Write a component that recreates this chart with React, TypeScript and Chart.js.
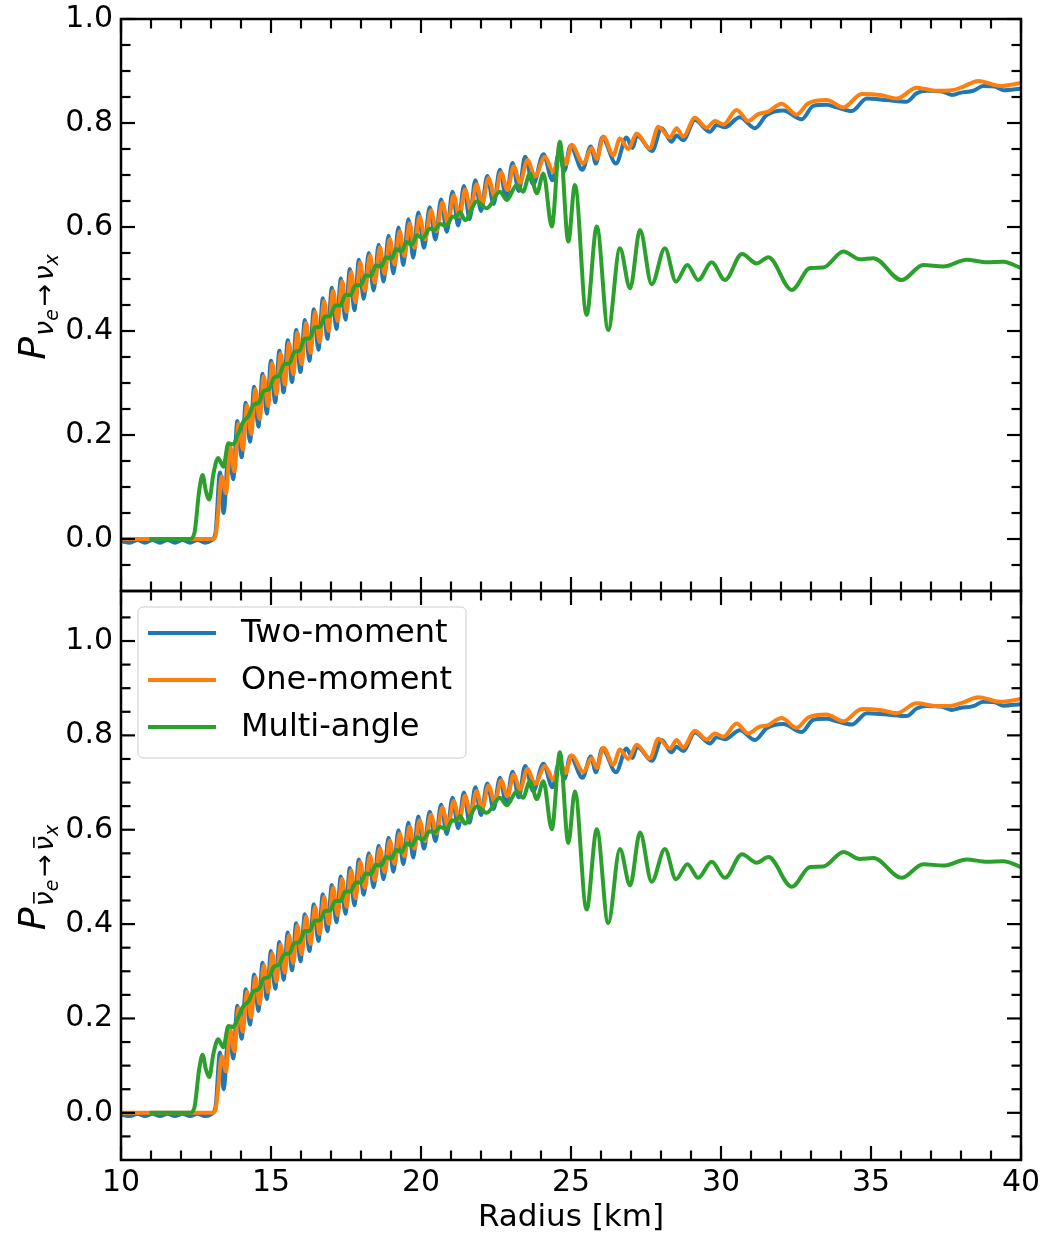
import React, { useEffect, useRef } from 'react';
import { Chart, registerables } from 'chart.js';

Chart.register(...registerables);

// ---------- data ----------
const radiusTwo = [
  10.0, 10.3, 10.55, 10.8, 11.05, 11.3, 11.55, 11.8, 12.05, 12.3, 12.55, 12.8, 13.0, 13.15,
  13.3, 13.42, 13.6, 13.74, 13.88, 14.02, 14.16, 14.3, 14.44, 14.58, 14.72, 14.86, 15.0, 15.14,
  15.28, 15.42, 15.56, 15.7, 15.84, 15.98, 16.13, 16.28, 16.43, 16.58, 16.73, 16.88, 17.03, 17.18,
  17.33, 17.48, 17.63, 17.78, 17.93, 18.09, 18.26, 18.42, 18.59, 18.75, 18.92, 19.08, 19.25, 19.41,
  19.58, 19.74, 19.91, 20.1, 20.29, 20.48, 20.67, 20.86, 21.05, 21.24, 21.43, 21.62, 21.81, 22.0,
  22.21, 22.42, 22.63, 22.84, 23.05, 23.26, 23.47, 23.74, 24.08, 24.38, 24.6, 24.78, 24.98, 25.38,
  25.66, 25.83, 26.04, 26.5, 26.85, 27.05, 27.2, 27.7, 28.02, 28.35, 28.52, 28.74, 29.13, 29.63,
  29.86, 30.13, 30.63, 31.13, 31.52, 32.08, 32.69, 33.08, 33.52, 33.86, 34.36, 34.86, 35.53, 36.19,
  36.52, 36.86, 37.41, 37.69, 37.97, 38.41, 38.74, 39.13, 39.41, 40.0,
];
const probTwo = [
  -0.004, -0.007, -0.002, -0.007, -0.002, -0.007, -0.002, -0.007, -0.002, -0.007, -0.002, -0.007, -0.003, 0.012,
  0.128, 0.05, 0.182, 0.115, 0.227, 0.157, 0.262, 0.187, 0.293, 0.216, 0.318, 0.241, 0.343, 0.263,
  0.362, 0.282, 0.382, 0.302, 0.402, 0.321, 0.421, 0.343, 0.442, 0.364, 0.463, 0.385, 0.483, 0.404,
  0.501, 0.422, 0.519, 0.44, 0.537, 0.462, 0.55, 0.478, 0.566, 0.495, 0.583, 0.511, 0.599, 0.527,
  0.615, 0.541, 0.628, 0.56, 0.638, 0.576, 0.653, 0.591, 0.668, 0.603, 0.679, 0.615, 0.69, 0.631,
  0.698, 0.644, 0.71, 0.656, 0.723, 0.669, 0.735, 0.682, 0.74, 0.69, 0.742, 0.708, 0.756, 0.71,
  0.755, 0.722, 0.772, 0.722, 0.772, 0.752, 0.776, 0.746, 0.79, 0.764, 0.776, 0.767, 0.806, 0.783,
  0.796, 0.792, 0.811, 0.79, 0.815, 0.824, 0.807, 0.833, 0.835, 0.83, 0.823, 0.847, 0.844, 0.841,
  0.857, 0.862, 0.86, 0.854, 0.858, 0.862, 0.871, 0.87, 0.863, 0.866,
];

const radiusOne = [
  10.0, 13.05, 13.15, 13.22, 13.36, 13.5, 13.64, 13.78, 13.92, 14.06, 14.2, 14.34, 14.48, 14.62,
  14.76, 14.9, 15.04, 15.18, 15.32, 15.46, 15.6, 15.74, 15.88, 16.02, 16.17, 16.32, 16.47, 16.62,
  16.77, 16.92, 17.07, 17.22, 17.37, 17.52, 17.67, 17.82, 17.97, 18.13, 18.3, 18.46, 18.63, 18.79,
  18.96, 19.12, 19.29, 19.45, 19.62, 19.78, 19.95, 20.14, 20.33, 20.52, 20.71, 20.9, 21.09, 21.28,
  21.47, 21.66, 21.85, 22.04, 22.25, 22.46, 22.67, 22.88, 23.09, 23.3, 23.55, 23.8, 24.13, 24.41,
  24.65, 24.82, 25.02, 25.41, 25.69, 25.86, 26.08, 26.41, 26.63, 26.91, 27.19, 27.63, 27.91, 28.3,
  28.52, 28.74, 29.13, 29.52, 29.8, 30.08, 30.52, 30.91, 31.24, 31.58, 32.02, 32.52, 32.91, 33.52,
  34.08, 34.69, 35.3, 35.86, 36.52, 37.19, 37.69, 38.08, 38.58, 39.3, 40.0,
];
const probOne = [
  0.0, 0.0, 0.006, 0.04, 0.12, 0.088, 0.177, 0.13, 0.222, 0.172, 0.257, 0.202, 0.288, 0.231,
  0.313, 0.256, 0.338, 0.278, 0.357, 0.297, 0.377, 0.317, 0.397, 0.336, 0.416, 0.358, 0.437, 0.379,
  0.458, 0.4, 0.478, 0.419, 0.496, 0.437, 0.514, 0.455, 0.532, 0.477, 0.545, 0.493, 0.561, 0.51,
  0.577, 0.528, 0.592, 0.544, 0.607, 0.56, 0.62, 0.576, 0.632, 0.592, 0.647, 0.607, 0.661, 0.62,
  0.672, 0.632, 0.682, 0.645, 0.694, 0.658, 0.705, 0.671, 0.717, 0.685, 0.729, 0.697, 0.735, 0.706,
  0.742, 0.72, 0.758, 0.722, 0.752, 0.731, 0.774, 0.738, 0.77, 0.75, 0.78, 0.751, 0.793, 0.772,
  0.79, 0.774, 0.81, 0.791, 0.804, 0.797, 0.825, 0.804, 0.817, 0.822, 0.837, 0.816, 0.838, 0.844,
  0.83, 0.856, 0.854, 0.847, 0.868, 0.862, 0.863, 0.87, 0.881, 0.871, 0.877,
];

const radiusMulti = [
  10.95, 12.3, 12.45, 12.6, 12.72, 12.83, 12.94, 13.08, 13.24, 13.41, 13.58, 13.74, 13.91, 14.08,
  14.25, 14.42, 14.59, 14.76, 14.93, 15.1, 15.27, 15.44, 15.61, 15.78, 15.95, 16.12, 16.29, 16.46,
  16.63, 16.8, 16.97, 17.14, 17.31, 17.48, 17.65, 17.82, 17.99, 18.16, 18.33, 18.5, 18.67, 18.84,
  19.01, 19.18, 19.35, 19.52, 19.69, 19.86, 20.05, 20.3, 20.45, 20.63, 20.85, 21.05, 21.15, 21.3,
  21.47, 21.86, 22.19, 22.63, 22.86, 23.19, 23.4, 23.63, 23.86, 24.08, 24.36, 24.63, 24.91, 25.13,
  25.52, 25.86, 26.24, 26.63, 26.97, 27.3, 27.69, 28.13, 28.5, 28.88, 29.24, 29.69, 30.13, 30.7,
  31.19, 31.58, 32.36, 32.97, 33.41, 34.08, 34.63, 35.08, 36.02, 36.74, 37.41, 38.19, 38.86, 39.41,
  40.0,
];
const probMulti = [
  0.0, 0.0, 0.012, 0.09, 0.123, 0.092, 0.076, 0.125, 0.156, 0.139, 0.184, 0.182, 0.203, 0.226,
  0.236, 0.258, 0.262, 0.285, 0.288, 0.31, 0.314, 0.336, 0.338, 0.36, 0.362, 0.385, 0.386, 0.407,
  0.408, 0.428, 0.429, 0.449, 0.449, 0.469, 0.469, 0.488, 0.488, 0.507, 0.506, 0.526, 0.524, 0.542,
  0.539, 0.557, 0.553, 0.571, 0.566, 0.584, 0.579, 0.597, 0.594, 0.606, 0.602, 0.62, 0.619, 0.629,
  0.613, 0.649, 0.636, 0.668, 0.652, 0.681, 0.668, 0.703, 0.665, 0.703, 0.601, 0.764, 0.572, 0.681,
  0.431, 0.601, 0.402, 0.559, 0.482, 0.594, 0.49, 0.559, 0.495, 0.527, 0.498, 0.532, 0.498, 0.548,
  0.53, 0.542, 0.479, 0.521, 0.522, 0.553, 0.538, 0.54, 0.498, 0.527, 0.524, 0.537, 0.532, 0.533,
  0.521,
];

const seriesNames = ['Two-moment', 'One-moment', 'Multi-angle'];
const seriesColors = ['#1f77b4', '#ff7f0e', '#2ca02c'];

const xMajorTicks = [10, 15, 20, 25, 30, 35, 40];
const xMinorTicks = [11, 12, 13, 14, 16, 17, 18, 19, 21, 22, 23, 24, 26, 27, 28, 29, 31, 32, 33, 34, 36, 37, 38, 39];
const yMajorTicks = [0.0, 0.2, 0.4, 0.6, 0.8, 1.0];
const yMinorTicks = [-0.05, 0.05, 0.1, 0.15, 0.25, 0.3, 0.35, 0.45, 0.5, 0.55, 0.65, 0.7, 0.75, 0.85, 0.9, 0.95, 1.05];

const FONT = '"DejaVu Sans", sans-serif';

function pairs(xs: number[], ys: number[]) {
  return xs.map((x, i) => ({ x, y: ys[i] }));
}

function makeDatasets() {
  const sets = [
    { xs: radiusTwo, ys: probTwo, order: 2 },
    { xs: radiusOne, ys: probOne, order: 1 },
    { xs: radiusMulti, ys: probMulti, order: 0 },
  ];
  return sets.map((s, i) => ({
    label: seriesNames[i],
    data: pairs(s.xs, s.ys),
    borderColor: seriesColors[i],
    backgroundColor: seriesColors[i],
    borderWidth: 4,
    pointRadius: 0,
    pointHoverRadius: 0,
    fill: false,
    cubicInterpolationMode: 'monotone' as const,
    borderJoinStyle: 'round' as const,
    order: s.order,
  }));
}

function drawYLabel(ctx: CanvasRenderingContext2D, cx: number, cy: number, bar: boolean) {
  const parts = [
    { t: 'P', size: 38, italic: true, dy: 0, bar: false, gap: 1 },
    { t: 'ν', size: 27, italic: true, dy: 8, bar, gap: 0 },
    { t: 'e', size: 19, italic: true, dy: 13, bar: false, gap: 3 },
    { t: '→', size: 27, italic: false, dy: 8, bar: false, gap: 3 },
    { t: 'ν', size: 27, italic: true, dy: 8, bar, gap: 0 },
    { t: 'x', size: 19, italic: true, dy: 13, bar: false, gap: 0 },
  ];
  ctx.save();
  ctx.translate(cx, cy);
  ctx.rotate(-Math.PI / 2);
  ctx.fillStyle = '#000';
  ctx.strokeStyle = '#000';
  ctx.textBaseline = 'alphabetic';
  ctx.textAlign = 'left';
  const widths = parts.map((p) => {
    ctx.font = `${p.italic ? 'italic ' : ''}${p.size}px ${FONT}`;
    return ctx.measureText(p.t).width + p.gap;
  });
  const total = widths.reduce((a, b) => a + b, 0);
  let x = -total / 2;
  parts.forEach((p, i) => {
    ctx.font = `${p.italic ? 'italic ' : ''}${p.size}px ${FONT}`;
    ctx.fillText(p.t, x, p.dy);
    if (p.bar) {
      const w = widths[i] - p.gap;
      const by = p.dy - p.size * 0.56 - 4;
      ctx.lineWidth = 1.6;
      ctx.beginPath();
      ctx.moveTo(x + w * 0.2, by);
      ctx.lineTo(x + w * 0.95, by);
      ctx.stroke();
    }
    x += widths[i];
  });
  ctx.restore();
}

function makeFramePlugin(bar: boolean, withLegend: boolean) {
  return {
    id: 'frameTicks',
    afterDraw(chart: any) {
      const { ctx, chartArea: a, scales } = chart;
      const xs = scales.x;
      const ys = scales.y;
      ctx.save();
      ctx.strokeStyle = '#000';
      const seg = (x1: number, y1: number, x2: number, y2: number) => {
        ctx.beginPath();
        ctx.moveTo(x1, y1);
        ctx.lineTo(x2, y2);
        ctx.stroke();
      };
      ctx.lineWidth = 2.2;
      xMajorTicks.forEach((v) => {
        const p = xs.getPixelForValue(v);
        seg(p, a.bottom, p, a.bottom - 14);
        seg(p, a.top, p, a.top + 14);
      });
      xMinorTicks.forEach((v) => {
        const p = xs.getPixelForValue(v);
        seg(p, a.bottom, p, a.bottom - 9.5);
        seg(p, a.top, p, a.top + 9.5);
      });
      yMajorTicks.forEach((v) => {
        if (v < ys.min || v > ys.max) return;
        const p = ys.getPixelForValue(v);
        seg(a.left, p, a.left + 14, p);
        seg(a.right, p, a.right - 14, p);
      });
      yMinorTicks.forEach((v) => {
        if (v <= ys.min || v >= ys.max) return;
        const p = ys.getPixelForValue(v);
        seg(a.left, p, a.left + 9.5, p);
        seg(a.right, p, a.right - 9.5, p);
      });
      ctx.lineWidth = 2.5;
      ctx.strokeRect(a.left, a.top, a.right - a.left, a.bottom - a.top);
      ctx.restore();

      drawYLabel(ctx, 45, (a.top + a.bottom) / 2 + 2, bar);

      if (withLegend) {
        ctx.save();
        const bx = a.left + 17;
        const by = a.top + 16;
        ctx.beginPath();
        (ctx as any).roundRect(bx, by, 328, 151, 5);
        ctx.fillStyle = 'rgba(255,255,255,0.8)';
        ctx.fill();
        ctx.strokeStyle = '#cccccc';
        ctx.lineWidth = 1;
        ctx.stroke();
        ctx.font = `32px ${FONT}`;
        ctx.textBaseline = 'middle';
        ctx.textAlign = 'left';
        seriesNames.forEach((name, i) => {
          const ly = by + 26 + i * 47;
          ctx.strokeStyle = seriesColors[i];
          ctx.lineWidth = 4;
          seg(bx + 10, ly, bx + 78, ly);
          ctx.fillStyle = '#000';
          ctx.fillText(name, bx + 103, ly + 1);
        });
        ctx.restore();
      }
    },
  };
}

function yScale(max: number) {
  return {
    type: 'linear' as const,
    min: -0.1,
    max,
    grid: { display: false, drawTicks: false },
    border: { display: false },
    afterBuildTicks: (s: any) => {
      s.ticks = yMajorTicks.filter((v) => v <= max).map((v) => ({ value: v }));
    },
    ticks: {
      color: '#000',
      font: { family: FONT, size: 30 },
      padding: 8,
      autoSkip: false,
      callback: (v: any) => Number(v).toFixed(1),
    },
    afterFit: (s: any) => {
      s.width = 121;
      s.paddingTop = 0;
      s.paddingBottom = 0;
    },
  };
}

export default function App() {
  const topRef = useRef<HTMLCanvasElement>(null);
  const botRef = useRef<HTMLCanvasElement>(null);

  useEffect(() => {
    document.body.style.margin = '0';
    const top = new Chart(topRef.current as HTMLCanvasElement, {
      type: 'line',
      data: { datasets: makeDatasets() as any },
      options: {
        animation: false,
        responsive: false,
        maintainAspectRatio: false,
        devicePixelRatio: 1,
        layout: { padding: { left: 0, right: 19, top: 19, bottom: 17 } },
        plugins: { legend: { display: false }, tooltip: { enabled: false } },
        scales: {
          x: { type: 'linear', min: 10, max: 40, display: false },
          y: yScale(1.0) as any,
        },
      },
      plugins: [makeFramePlugin(false, false)],
    });

    const bottom = new Chart(botRef.current as HTMLCanvasElement, {
      type: 'line',
      data: { datasets: makeDatasets() as any },
      options: {
        animation: false,
        responsive: false,
        maintainAspectRatio: false,
        devicePixelRatio: 1,
        layout: { padding: { left: 0, right: 19, top: 11, bottom: 0 } },
        plugins: { legend: { display: false }, tooltip: { enabled: false } },
        scales: {
          x: {
            type: 'linear',
            min: 10,
            max: 40,
            grid: { display: false, drawTicks: false },
            border: { display: false },
            afterBuildTicks: (s: any) => {
              s.ticks = xMajorTicks.map((v) => ({ value: v }));
            },
            ticks: {
              color: '#000',
              font: { family: FONT, size: 30 },
              padding: 5,
              autoSkip: false,
              maxRotation: 0,
            },
            title: {
              display: true,
              text: 'Radius [km]',
              color: '#000',
              font: { family: FONT, size: 31, lineHeight: 1.0 },
              padding: { top: 0, bottom: 0 },
            },
            afterFit: (s: any) => {
              s.height = 73;
              s.paddingLeft = 0;
              s.paddingRight = 0;
            },
          } as any,
          y: yScale(1.106) as any,
        },
      },
      plugins: [makeFramePlugin(true, true)],
    });

    return () => {
      top.destroy();
      bottom.destroy();
    };
  }, []);

  return (
    <div style={{ position: 'relative', width: 1040, height: 1233, overflow: 'hidden' }}>
      <canvas ref={topRef} width={1040} height={608} style={{ position: 'absolute', left: 0, top: 0 }} />
      <canvas ref={botRef} width={1040} height={653} style={{ position: 'absolute', left: 0, top: 580 }} />
    </div>
  );
}
